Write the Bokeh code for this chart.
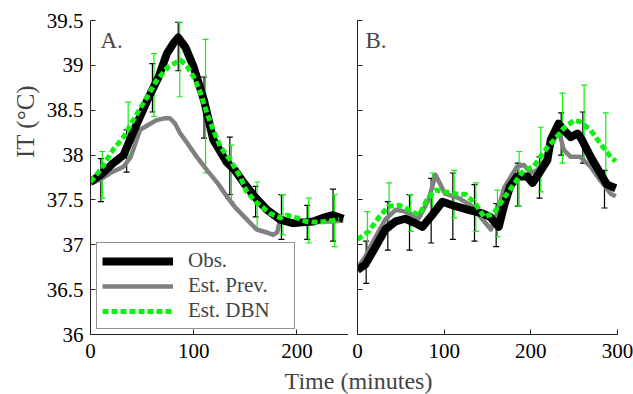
import math
from bokeh.plotting import figure
from bokeh.layouts import row, column
from bokeh.models import (Range1d, FixedTicker, CustomJSTickFormatter, Whisker, TeeHead,
                          ColumnDataSource, Label, Legend, LegendItem)
from bokeh.embed import file_html
from bokeh.resources import INLINE

FONT = "Liberation Serif"
BLACK = "#000000"
GRAY = "#808080"
GREEN = "#11ee11"

# ---------------- data: panel A ----------------
tA_obs = [0, 10, 22, 32, 45, 55, 66, 74, 80, 85, 92, 100, 110, 119, 132, 140, 148, 158,
          171, 184, 196, 205, 216, 225, 235, 245]
obsA = [37.70, 37.78, 37.91, 38.00, 38.35, 38.61, 38.87, 39.13, 39.24, 39.31, 39.20, 38.98,
        38.61, 38.17, 37.92, 37.83, 37.70, 37.55, 37.39, 37.28, 37.24, 37.25, 37.26, 37.30,
        37.33, 37.29]
tA_prev = [0, 10, 19, 32, 39, 48, 55, 64, 72, 77, 82, 87, 94, 103, 113, 123, 132, 140, 150,
           161, 170, 177, 181, 184, 190, 196, 210, 225, 235, 245]
prevA = [37.68, 37.73, 37.80, 37.87, 37.98, 38.28, 38.33, 38.39, 38.41, 38.41, 38.35, 38.24,
         38.13, 37.98, 37.83, 37.69, 37.54, 37.42, 37.30, 37.17, 37.14, 37.11, 37.14, 37.30,
         37.28, 37.24, 37.24, 37.26, 37.26, 37.27]
tA_dbn = [0, 10, 22, 32, 45, 55, 64, 75, 87, 93, 100, 107, 113, 120, 126, 135, 145, 151, 160,
          174, 184, 190, 200, 209, 220, 229, 241]
dbnA = [37.70, 37.84, 38.06, 38.20, 38.46, 38.65, 38.83, 38.98, 39.06, 39.00, 38.87, 38.68,
        38.46, 38.25, 38.09, 37.95, 37.76, 37.60, 37.48, 37.35, 37.30, 37.33, 37.30, 37.26,
        37.25, 37.26, 37.28]
# error bars A
ebA_obs_t = [10, 35, 60, 85, 110, 135, 160, 185, 210, 235]
ebA_obs_lo = [37.48, 37.81, 38.48, 38.94, 38.19, 37.56, 37.31, 37.06, 37.06, 37.04]
ebA_obs_hi = [37.96, 38.28, 39.02, 39.48, 38.87, 38.20, 37.65, 37.56, 37.44, 37.62]
ebA_dbn_t = [11.5, 36.5, 61.5, 86.5, 111.5, 136.5, 161.5, 186.5, 211.5, 236.5]
ebA_dbn_lo = [37.52, 37.98, 38.43, 38.65, 37.80, 37.48, 37.17, 37.11, 37.02, 36.98]
ebA_dbn_hi = [38.04, 38.59, 39.13, 39.48, 39.29, 38.11, 37.70, 37.56, 37.52, 37.56]

# ---------------- data: panel B ----------------
tB_obs = [0, 9, 21, 32, 44, 55, 67, 75, 86, 98, 113, 128, 144, 153, 163, 169, 176, 184, 196,
          202, 207, 219, 223, 232, 238, 246, 254, 259, 269, 280, 288, 298]
obsB = [36.72, 36.78, 36.98, 37.17, 37.26, 37.29, 37.24, 37.20, 37.33, 37.48, 37.43, 37.39,
        37.35, 37.31, 37.20, 37.43, 37.65, 37.76, 37.76, 37.69, 37.76, 37.94, 38.17, 38.35,
        38.28, 38.20, 38.24, 38.17, 37.98, 37.80, 37.67, 37.63]
tB_prev = [0, 8, 17, 32, 44, 55, 71, 82, 90, 101, 117, 132, 148, 154, 161, 169, 177, 184, 192,
           200, 207, 219, 223, 232, 238, 246, 257, 269, 280, 292, 298]
prevB = [36.75, 36.85, 37.02, 37.28, 37.39, 37.37, 37.30, 37.50, 37.78, 37.57, 37.52, 37.43,
         37.24, 37.17, 37.35, 37.63, 37.76, 37.87, 37.89, 37.80, 37.83, 37.98, 38.09, 38.28,
         38.06, 37.98, 37.98, 37.87, 37.72, 37.57, 37.54]
tB_dbn = [0, 13, 25, 36, 48, 59, 71, 80, 90, 101, 113, 125, 136, 146, 157, 169, 180, 192, 203,
          217, 227, 238, 250, 257, 269, 280, 292, 298]
dbnB = [37.06, 37.15, 37.31, 37.43, 37.44, 37.39, 37.33, 37.50, 37.61, 37.59, 37.57, 37.56,
        37.46, 37.31, 37.35, 37.52, 37.67, 37.83, 37.87, 38.06, 38.17, 38.30, 38.39, 38.37,
        38.28, 38.13, 37.98, 37.93]
ebB_obs_t = [10, 35, 60, 85, 110, 135, 160, 185, 210, 235, 260, 285]
ebB_obs_lo = [36.57, 36.94, 36.94, 37.02, 37.06, 37.04, 36.98, 37.43, 37.52, 38.00, 37.91, 37.41]
ebB_obs_hi = [37.04, 37.48, 37.56, 37.74, 37.80, 37.67, 37.46, 37.91, 37.98, 38.47, 38.48, 37.83]
ebB_dbn_t = [11.5, 36.5, 61.5, 86.5, 111.5, 136.5, 161.5, 186.5, 211.5, 236.5, 261.5, 286.5]
ebB_dbn_lo = [36.87, 37.17, 37.15, 37.35, 37.30, 37.15, 37.09, 37.43, 37.59, 37.91, 37.93, 37.65]
ebB_dbn_hi = [37.37, 37.69, 37.56, 37.80, 37.83, 37.69, 37.61, 38.04, 38.31, 38.69, 38.78, 38.47]

# ---------------- ticks / labels ----------------
y_ticks = [36, 36.5, 37, 37.5, 38, 38.5, 39, 39.5]
xA_ticks = [0, 100, 200]
xB_ticks = [0, 100, 200, 300]
xA_range = (0, 250)
xB_range = (0, 300)
y_range = (36, 39.5)
series_names = ["Obs.", "Est. Prev.", "Est. DBN"]
panel_names = ["A.", "B."]
x_title = "Time (minutes)"
y_title = "IT (°C)"

FRAME_H = 314
TOP = 20
BOTTOM = 33
CANVAS_H = TOP + FRAME_H + BOTTOM
TITLE_H = 394 - CANVAS_H


def make_panel(xr, xticks, frame_w, left, right, show_ylabels):
    p = figure(frame_width=frame_w, frame_height=FRAME_H,
               x_range=Range1d(*xr), y_range=Range1d(*y_range),
               min_border_left=left, min_border_right=right,
               min_border_top=TOP, min_border_bottom=BOTTOM,
               output_backend="svg", toolbar_location=None,
               background_fill_color="white", border_fill_color="white")
    p.outline_line_color = None
    p.grid.visible = False
    for ax in (p.xaxis[0], p.yaxis[0]):
        ax.axis_line_color = "#222222"
        ax.axis_line_width = 1
        ax.major_tick_line_color = "#222222"
        ax.major_tick_in = 5
        ax.major_tick_out = 0
        ax.minor_tick_line_color = None
        ax.major_label_text_font = FONT
        ax.major_label_text_font_size = "21px"
        ax.major_label_text_color = "black"
    p.xaxis[0].ticker = FixedTicker(ticks=xticks)
    p.xaxis[0].major_label_standoff = 9
    p.yaxis[0].ticker = FixedTicker(ticks=y_ticks)
    if show_ylabels:
        p.yaxis[0].formatter = CustomJSTickFormatter(code="return tick.toString();")
        p.yaxis[0].major_label_standoff = 7
    else:
        p.yaxis[0].formatter = CustomJSTickFormatter(code="return '';")
        p.yaxis[0].major_label_standoff = 0
        p.yaxis[0].major_label_text_font_size = "0px"
    return p


def add_series(p, t_obs, obs, t_prev, prev, t_dbn, dbn):
    r_prev = p.line(t_prev, prev, line_color=GRAY, line_width=4.5, line_join="round")
    r_obs = p.line(t_obs, obs, line_color=BLACK, line_width=8, line_join="round")
    r_dbn = p.line(t_dbn, dbn, line_color=GREEN, line_width=5, line_dash="6 3")
    return r_obs, r_prev, r_dbn


def add_bars(p, t, lo, hi, color):
    src = ColumnDataSource(dict(base=t, lower=lo, upper=hi))
    w = Whisker(source=src, base="base", lower="lower", upper="upper", dimension="height",
                line_color=color, line_width=1.2,
                upper_head=TeeHead(size=6, line_color=color, line_width=1.2),
                lower_head=TeeHead(size=6, line_color=color, line_width=1.2))
    p.add_layout(w)


def blank_strip(w, h):
    s = figure(width=w, height=h, x_range=Range1d(0, 1), y_range=Range1d(0, 1),
               min_border=0, output_backend="svg", toolbar_location=None,
               x_axis_type=None, y_axis_type=None,
               background_fill_color=None, border_fill_color=None)
    s.outline_line_color = None
    s.grid.visible = False
    return s


# ---------------- y title strip ----------------
p0 = blank_strip(40, CANVAS_H)
p0.add_layout(Label(x=25, y=CANVAS_H - 154, x_units="screen", y_units="screen", text=y_title,
                    angle=math.pi / 2, text_align="center", text_baseline="middle",
                    text_font=FONT, text_font_size="25px"))

# ---------------- panel A ----------------
p1 = make_panel(xA_range, xA_ticks, 258, 50, 0, True)
rA = add_series(p1, tA_obs, obsA, tA_prev, prevA, tA_dbn, dbnA)
add_bars(p1, ebA_obs_t, ebA_obs_lo, ebA_obs_hi, BLACK)
add_bars(p1, ebA_dbn_t, ebA_dbn_lo, ebA_dbn_hi, GREEN)
p1.add_layout(Label(x=10, y=294, x_units="screen", y_units="screen", text=panel_names[0],
                    text_font=FONT, text_font_size="23px", text_baseline="alphabetic"))
legend = Legend(items=[LegendItem(label=series_names[0], renderers=[rA[0]]),
                       LegendItem(label=series_names[1], renderers=[rA[1]]),
                       LegendItem(label=series_names[2], renderers=[rA[2]])],
                location=(6, 5), margin=0, padding=5, spacing=0,
                glyph_width=71, glyph_height=20, label_standoff=15, label_width=101,
                label_height=20,
                label_text_font=FONT, label_text_font_size="21px",
                border_line_color="#222222", border_line_width=1,
                background_fill_color="white", background_fill_alpha=1)
p1.add_layout(legend)

# ---------------- panel B ----------------
p2 = make_panel(xB_range, xB_ticks, 260, 9, 16, False)
add_series(p2, tB_obs, obsB, tB_prev, prevB, tB_dbn, dbnB)
add_bars(p2, ebB_obs_t, ebB_obs_lo, ebB_obs_hi, BLACK)
add_bars(p2, ebB_dbn_t, ebB_dbn_lo, ebB_dbn_hi, GREEN)
p2.add_layout(Label(x=8, y=294, x_units="screen", y_units="screen", text=panel_names[1],
                    text_font=FONT, text_font_size="23px", text_baseline="alphabetic"))

# ---------------- shared x title ----------------
p3 = blank_strip(633, TITLE_H)
p3.add_layout(Label(x=358, y=TITLE_H / 2, x_units="screen", y_units="screen", text=x_title,
                    text_align="center", text_baseline="middle",
                    text_font=FONT, text_font_size="24px"))

layout = column(row(p0, p1, p2), p3)
open("out.html", "w").write(file_html(layout, INLINE))
